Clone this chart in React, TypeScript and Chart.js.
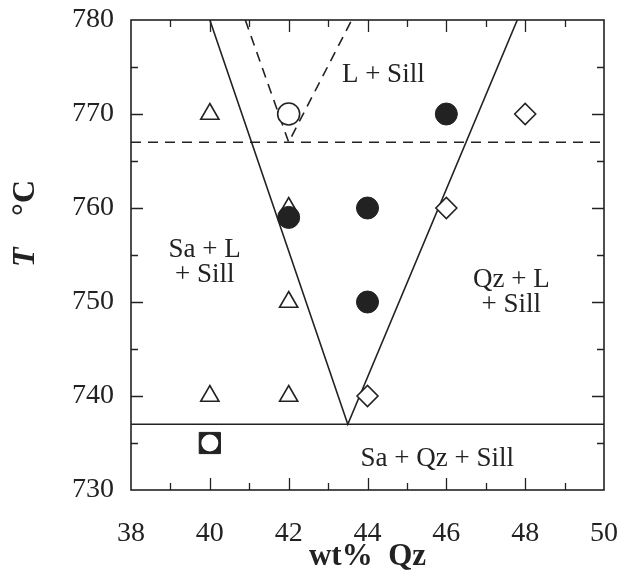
import React, { useEffect, useRef } from 'react';
import { Chart, registerables } from 'chart.js';

Chart.register(...registerables);

const FONT = "'Liberation Serif', 'Times New Roman', serif";
const INK = '#222222';

// axis ticks
const xMajorTicks = [38, 40, 42, 44, 46, 48, 50];
const xMinorTicks = [39, 41, 43, 45, 47, 49];
const yMajorTicks = [730, 740, 750, 760, 770, 780];
const yMinorTicks = [735, 745, 755, 765, 775];

// experiment symbols
const triangleX = [40, 42, 42, 40, 42];
const triangleY = [770, 760, 750, 740, 740];
const openCircleX = [42];
const openCircleY = [770];
const filledCircleX = [46, 44, 44, 42];
const filledCircleY = [770, 760, 750, 759];
const diamondX = [48, 46, 44];
const diamondY = [770, 760, 740];
const squareX = [40];
const squareY = [735];

// phase boundaries
const solidVX = [40, 43.5, 47.8];
const solidVY = [780, 737, 780];
const dashedVX = [40.9, 42, 43.6];
const dashedVY = [780, 767, 780];
const solidHX = [38, 50];
const solidHY = [737, 737];
const dashedHX = [38, 50];
const dashedHY = [767, 767];

// field labels (first-line baseline position)
const regionText = [['L + Sill'], ['Sa + L', '+ Sill'], ['Qz + L', '+ Sill'], ['Sa + Qz + Sill']];
const regionX = [44.4, 39.87, 47.65, 45.77];
const regionY = [773.4, 754.8, 751.6, 732.6];

const xTitle = 'wt%  Qz';
const yTitleVar = 'T';
const yTitleUnit = '°C';

const pts = (xs: number[], ys: number[]) => xs.map((x, i) => ({ x, y: ys[i] }));

const overlay = {
  id: 'overlay',
  beforeDraw(chart: any) {
    const { ctx, width, height } = chart;
    ctx.save();
    ctx.fillStyle = '#ffffff';
    ctx.fillRect(0, 0, width, height);
    ctx.restore();
  },
  afterDatasetsDraw(chart: any) {
    const { ctx, chartArea: a, scales } = chart;
    const xs = scales.x;
    const ys = scales.y;
    ctx.save();
    ctx.strokeStyle = INK;
    ctx.lineWidth = 1.6;
    ctx.strokeRect(a.left, a.top, a.right - a.left, a.bottom - a.top);

    const major = 12;
    const minor = 7;
    ctx.lineWidth = 1.3;
    ctx.beginPath();
    const xt = (vals: number[], len: number) => {
      vals.forEach((v) => {
        const p = Math.round(xs.getPixelForValue(v)) + 0.5;
        ctx.moveTo(p, a.bottom);
        ctx.lineTo(p, a.bottom - len);
        ctx.moveTo(p, a.top);
        ctx.lineTo(p, a.top + len);
      });
    };
    const yt = (vals: number[], len: number) => {
      vals.forEach((v) => {
        const p = Math.round(ys.getPixelForValue(v)) + 0.5;
        ctx.moveTo(a.left, p);
        ctx.lineTo(a.left + len, p);
        ctx.moveTo(a.right, p);
        ctx.lineTo(a.right - len, p);
      });
    };
    xt(xMajorTicks.slice(1, -1), major);
    xt(xMinorTicks, minor);
    yt(yMajorTicks.slice(1, -1), major);
    yt(yMinorTicks, minor);
    ctx.stroke();

    // field labels
    ctx.fillStyle = INK;
    ctx.font = `27px ${FONT}`;
    ctx.textAlign = 'center';
    ctx.textBaseline = 'alphabetic';
    regionText.forEach((lines, i) => {
      const px = xs.getPixelForValue(regionX[i]);
      const py = ys.getPixelForValue(regionY[i]);
      lines.forEach((t, j) => ctx.fillText(t, px, py + j * 25));
    });

    // x title
    ctx.font = `bold 31px ${FONT}`;
    ctx.textAlign = 'center';
    ctx.fillText(xTitle, (a.left + a.right) / 2, 565);

    // y title (rotated)
    ctx.save();
    ctx.translate(34, 0);
    ctx.rotate(-Math.PI / 2);
    ctx.textBaseline = 'alphabetic';
    ctx.font = `italic bold 32px ${FONT}`;
    ctx.textAlign = 'left';
    ctx.fillText(yTitleVar, -267, 0);
    ctx.font = `bold 32px ${FONT}`;
    ctx.textAlign = 'right';
    ctx.fillText(yTitleUnit, -180, 0);
    ctx.restore();

    ctx.restore();
  },
};

const zeroPad = (s: any) => {
  s.paddingLeft = 0;
  s.paddingRight = 0;
  s.paddingTop = 0;
  s.paddingBottom = 0;
};

export default function App() {
  const ref = useRef<HTMLCanvasElement | null>(null);
  useEffect(() => {
    if (!ref.current) return;
    const lineDs = (xs: number[], ys: number[], dash: number[]) => ({
      type: 'line' as const,
      data: pts(xs, ys),
      borderColor: INK,
      borderWidth: 1.6,
      borderDash: dash,
      pointRadius: 0,
      showLine: true,
      fill: false,
      tension: 0,
    });
    const symDs = (xs: number[], ys: number[], style: string, r: number, bg: string, bw: number) => ({
      type: 'scatter' as const,
      data: pts(xs, ys),
      pointStyle: style,
      pointRadius: r,
      pointBackgroundColor: bg,
      pointBorderColor: INK,
      pointBorderWidth: bw,
      showLine: false,
    });
    const chart = new Chart(ref.current, {
      type: 'scatter',
      data: {
        datasets: [
          symDs(squareX, squareY, 'circle', 9.5, '#ffffff', 2) as any,
          symDs(squareX, squareY, 'rect', 15, INK, 1) as any,
          symDs(filledCircleX, filledCircleY, 'circle', 11, INK, 1) as any,
          symDs(openCircleX, openCircleY, 'circle', 11, '#ffffff', 1.6) as any,
          symDs(diamondX, diamondY, 'rectRot', 10.5, '#ffffff', 1.6) as any,
          symDs(triangleX, triangleY, 'triangle', 10.5, '#ffffff', 1.6) as any,
          lineDs(solidVX, solidVY, []) as any,
          lineDs(dashedVX, dashedVY, [10, 7]) as any,
          lineDs(solidHX, solidHY, []) as any,
          lineDs(dashedHX, dashedHY, [10, 7]) as any,
        ],
      },
      options: {
        animation: false,
        responsive: false,
        maintainAspectRatio: false,
        events: [],
        layout: { padding: { top: 20, right: 15, left: 0, bottom: 0 } },
        plugins: { legend: { display: false }, tooltip: { enabled: false } },
        scales: {
          x: {
            type: 'linear',
            min: 38,
            max: 50,
            afterBuildTicks: (s: any) => { s.ticks = xMajorTicks.map((v) => ({ value: v })); },
            afterFit: (s: any) => { s.height = 97; zeroPad(s); },
            grid: { display: false, drawTicks: false },
            border: { display: false },
            ticks: { font: { family: FONT, size: 28 }, color: INK, padding: 27, maxRotation: 0, autoSkip: false },
          },
          y: {
            type: 'linear',
            min: 730,
            max: 780,
            afterBuildTicks: (s: any) => { s.ticks = yMajorTicks.map((v) => ({ value: v })); },
            afterFit: (s: any) => { s.width = 131; zeroPad(s); },
            grid: { display: false, drawTicks: false },
            border: { display: false },
            ticks: { font: { family: FONT, size: 28 }, color: INK, padding: 17, autoSkip: false },
          },
        },
      } as any,
      plugins: [overlay],
    });
    return () => chart.destroy();
  }, []);
  return (
    <div style={{ position: 'absolute', left: 0, top: 0, width: 620, height: 587, background: '#fff' }}>
      <canvas ref={ref} width={620} height={587} style={{ display: 'block' }} />
    </div>
  );
}
